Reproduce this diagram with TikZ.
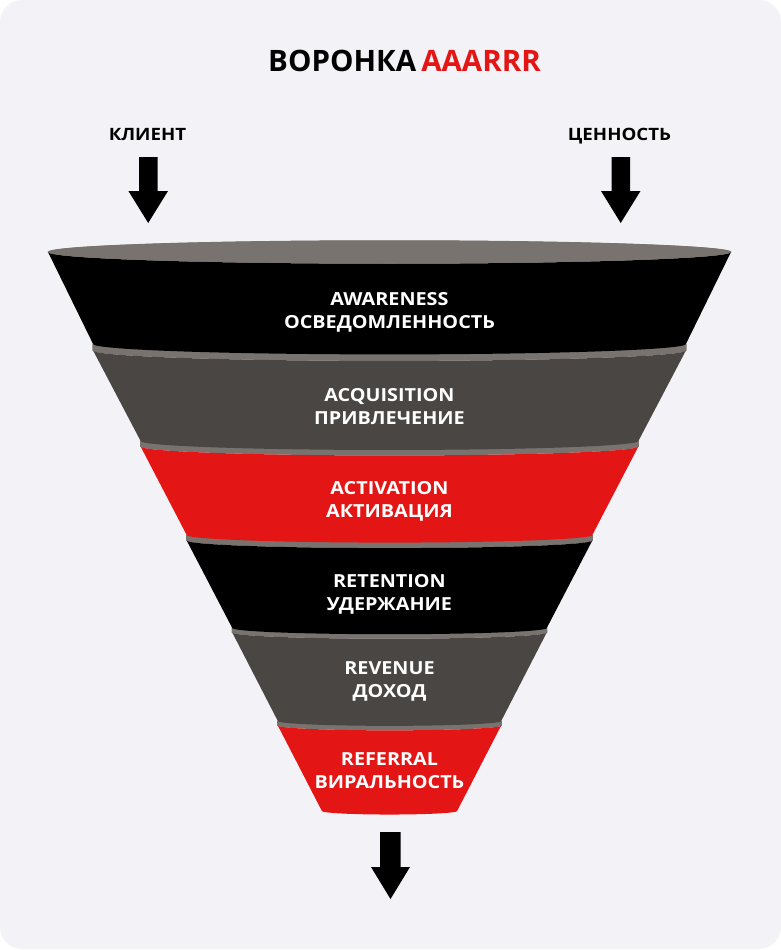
\documentclass[tikz,border=0pt]{standalone}
\usepackage{fontspec}
\setmainfont{Open Sans}
\newfontfamily\labfont{Open Sans}[FakeStretch=1.1]
\definecolor{bgpanel}{HTML}{F3F3F7}
\definecolor{funred}{HTML}{E31515}
\definecolor{fungray}{HTML}{4A4643}
\definecolor{rimgray}{HTML}{78736F}
\newcommand\funlayer[4]{%
  \pgfmathsetmacro\fWa{341.5-(#1-252)*0.49}%
  \pgfmathsetmacro\fWb{341.5-(#2-252)*0.49}%
  \pgfmathsetmacro\fHa{0.03*\fWa+1.5}%
  \pgfmathsetmacro\fHb{0.03*\fWb+1.5}%
  \pgfmathsetmacro\fYd{#1+#4}%
  \fill[rimgray] (389.5-\fWa-0.6,-#1) arc[start angle=180,end angle=0,x radius=\fWa pt+0.6pt,y radius=\fHa pt] -- (389.5+\fWa+0.6,-\fYd) arc[start angle=0,end angle=-180,x radius=\fWa pt+0.6pt,y radius=\fHa pt] -- cycle;
  \fill[#3] (389.5-\fWa,-\fYd) -- (389.5-\fWb,-#2) arc[start angle=180,end angle=360,x radius=\fWb pt,y radius=\fHb pt] -- (389.5+\fWa,-\fYd) arc[start angle=0,end angle=-180,x radius=\fWa pt,y radius=\fHa pt] -- cycle;
}
\begin{document}
\begin{tikzpicture}[x=1pt,y=1pt,
  lab/.style={text=white,inner sep=0pt,anchor=base,font=\labfont\bfseries\fontsize{18}{22}\selectfont},
  sidelab/.style={text=black,inner sep=0pt,anchor=base,font=\labfont\bfseries\fontsize{17}{20}\selectfont},
  blockarrow/.style={fill=black}]
\useasboundingbox (0,0) rectangle (781,-950);
\fill[white] (0,0) rectangle (781,-950);
\fill[bgpanel,rounded corners=22pt] (0,0) rectangle (781,-949);
% title
\node[inner sep=0pt,anchor=base,font=\bfseries\fontsize{29.5}{34}\selectfont] (title) at (404.5,-71) {ВОРОНКА\kern5pt\textcolor{funred}{AAARRR}};
% side labels
\node[sidelab] (client) at (147.5,-140) {КЛИЕНТ};
\node[sidelab] (value) at (619.5,-140) {ЦЕННОСТЬ};
% arrows
\fill[blockarrow] (139,-157) -- (157.5,-157) -- (157.5,-191) -- (168,-191) -- (148.2,-223) -- (128.4,-191) -- (139,-191) -- cycle;
\fill[blockarrow] (611.5,-157) -- (630,-157) -- (630,-191) -- (640.5,-191) -- (620.7,-223) -- (601,-191) -- (611.5,-191) -- cycle;
\fill[blockarrow] (380,-832) -- (400.5,-832) -- (400.5,-867) -- (410,-867) -- (390.5,-899) -- (371,-867) -- (380,-867) -- cycle;
% funnel layers, bottom up
\funlayer{721}{811}{funred}{4.5}
\funlayer{628}{721}{fungray}{4.5}
\funlayer{535}{628}{black}{5.5}
\funlayer{441}{535}{funred}{5.5}
\funlayer{344}{441}{fungray}{6.5}
\funlayer{252}{344}{black}{0}
\fill[rimgray] (389.5,-252) ellipse[x radius=341.5pt,y radius=11.5pt];
% texts
\node[lab] (l1a) at (389.5,-305) {AWARENESS};
\node[lab] (l1b) at (389.5,-328) {ОСВЕДОМЛЕННОСТЬ};
\node[lab] (l2a) at (389.5,-401.5) {ACQUISITION};
\node[lab] (l2b) at (389.5,-424) {ПРИВЛЕЧЕНИЕ};
\node[lab] (l3a) at (389.5,-494) {ACTIVATION};
\node[lab] (l3b) at (389.5,-517) {АКТИВАЦИЯ};
\node[lab] (l4a) at (389.5,-587) {RETENTION};
\node[lab] (l4b) at (389.5,-610) {УДЕРЖАНИЕ};
\node[lab] (l5a) at (389.5,-674) {REVENUE};
\node[lab] (l5b) at (389.5,-697) {ДОХОД};
\node[lab] (l6a) at (389.5,-765.5) {REFERRAL};
\node[lab] (l6b) at (389.5,-788) {ВИРАЛЬНОСТЬ};
\end{tikzpicture}
\end{document}
